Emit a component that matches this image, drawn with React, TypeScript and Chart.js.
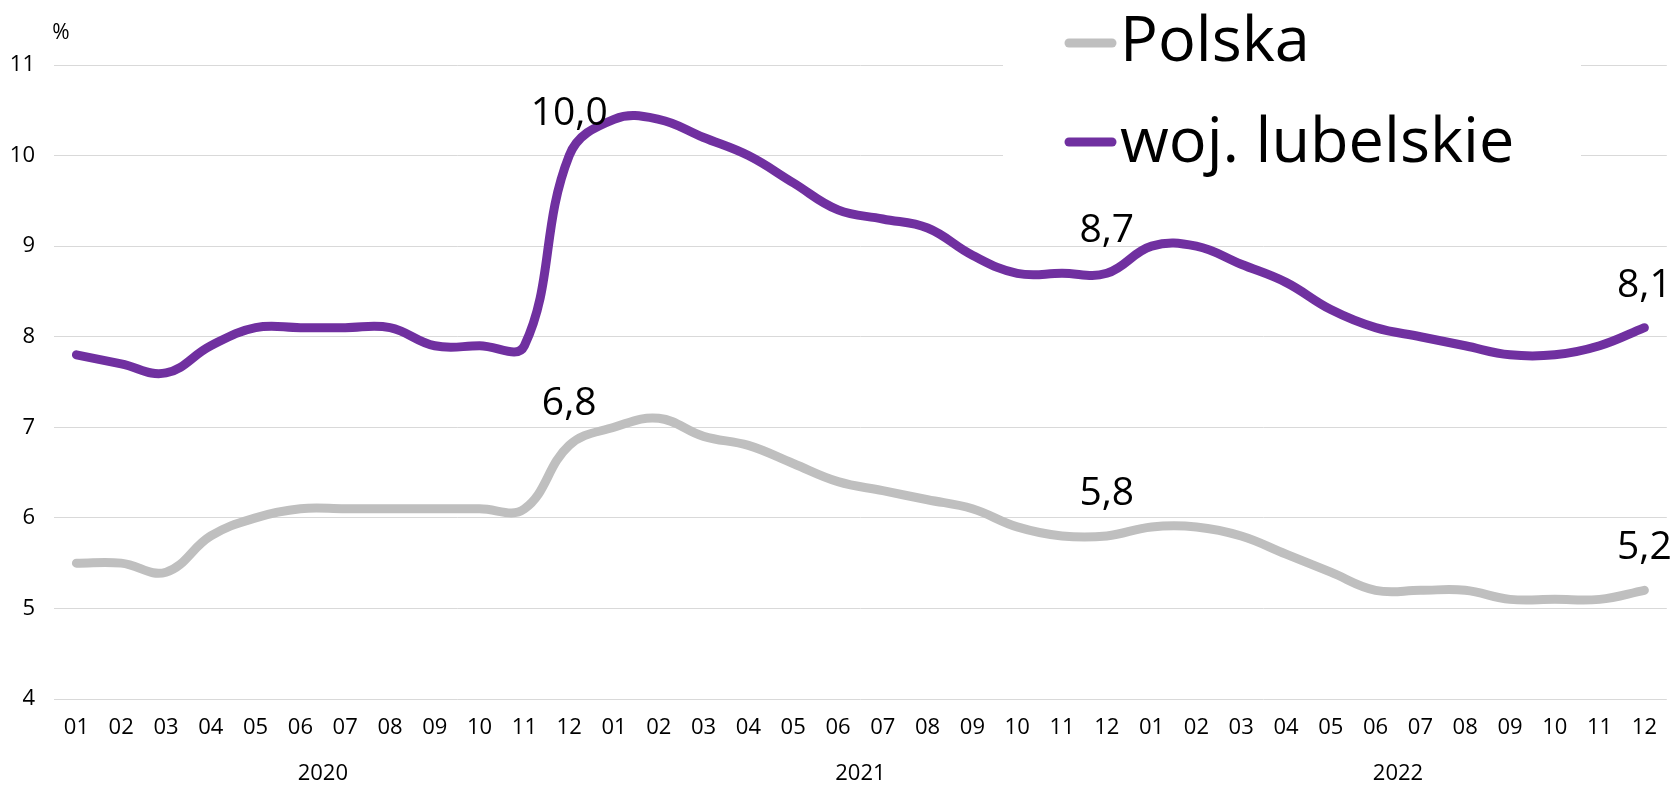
import React, { useEffect, useRef } from "react";
import { Chart, registerables } from "chart.js";

Chart.register(...registerables);

const monthLabels = [
  "01", "02", "03", "04", "05", "06", "07", "08", "09", "10", "11", "12",
  "01", "02", "03", "04", "05", "06", "07", "08", "09", "10", "11", "12",
  "01", "02", "03", "04", "05", "06", "07", "08", "09", "10", "11", "12",
];
const yearLabels = ["2020", "2021", "2022"];

const polska = [
  5.5, 5.5, 5.4, 5.8, 6.0, 6.1, 6.1, 6.1, 6.1, 6.1, 6.1, 6.8,
  7.0, 7.1, 6.9, 6.8, 6.6, 6.4, 6.3, 6.2, 6.1, 5.9, 5.8, 5.8,
  5.9, 5.9, 5.8, 5.6, 5.4, 5.2, 5.2, 5.2, 5.1, 5.1, 5.1, 5.2,
];
const lubelskie = [
  7.8, 7.7, 7.6, 7.9, 8.1, 8.1, 8.1, 8.1, 7.9, 7.9, 7.9, 10.0,
  10.4, 10.4, 10.2, 10.0, 9.7, 9.4, 9.3, 9.2, 8.9, 8.7, 8.7, 8.7,
  9.0, 9.0, 8.8, 8.6, 8.3, 8.1, 8.0, 7.9, 7.8, 7.8, 7.9, 8.1,
];
const labeledIndexes = [11, 23, 35];
const seriesNames = ["Polska", "woj. lubelskie"];
const seriesColors = ["#BFBFBF", "#7030A0"];
const yMin = 4;
const yMax = 11;
const unitLabel = "%";

const FONT = "'Open Sans', 'Noto Sans', sans-serif";

const fmt = (v: number) => v.toFixed(1).replace(".", ",");

const extrasPlugin = {
  id: "extras",
  afterDraw(chart: any) {
    const ctx = chart.ctx;
    const xs = chart.scales.x;
    ctx.save();

    // data labels
    ctx.fillStyle = "#000";
    ctx.font = `39px ${FONT}`;
    ctx.textAlign = "center";
    ctx.textBaseline = "middle";
    chart.data.datasets.forEach((ds: any, di: number) => {
      const meta = chart.getDatasetMeta(di);
      labeledIndexes.forEach((idx) => {
        const pt = meta.data[idx];
        ctx.fillText(fmt(ds.data[idx]), pt.x, pt.y - 42);
      });
    });

    // year labels
    ctx.font = `22px ${FONT}`;
    yearLabels.forEach((yl, i) => {
      const a = xs.getPixelForValue(i * 12 + 5);
      const b = xs.getPixelForValue(i * 12 + 6);
      ctx.fillText(yl, (a + b) / 2, 774);
    });

    // unit label
    ctx.font = `21px ${FONT}`;
    ctx.fillText(unitLabel, 61, 33);

    // legend
    ctx.fillStyle = "#fff";
    ctx.fillRect(1003, 0, 578, 200);
    const legendY = [43, 142];
    const baseY = [61, 162];
    let size = 70;
    ctx.font = `${size}px ${FONT}`;
    const w = ctx.measureText(seriesNames[1]).width;
    size = Math.floor((size * 395) / w);
    seriesNames.forEach((name, i) => {
      ctx.strokeStyle = seriesColors[i];
      ctx.lineWidth = 9;
      ctx.lineCap = "round";
      ctx.beginPath();
      ctx.moveTo(1069, legendY[i]);
      ctx.lineTo(1112, legendY[i]);
      ctx.stroke();
      ctx.fillStyle = "#000";
      ctx.font = `${size}px ${FONT}`;
      ctx.textAlign = "left";
      ctx.textBaseline = "alphabetic";
      ctx.fillText(name, 1120, baseY[i]);
    });

    ctx.restore();
  },
};

export default function App() {
  const canvasRef = useRef<HTMLCanvasElement | null>(null);

  useEffect(() => {
    document.body.style.margin = "0";
    const canvas = canvasRef.current;
    if (!canvas) return;
    const chart = new Chart(canvas, {
      type: "line",
      data: {
        labels: monthLabels,
        datasets: [
          {
            label: seriesNames[0],
            data: polska,
            borderColor: seriesColors[0],
            backgroundColor: seriesColors[0],
            borderWidth: 9,
            pointRadius: 0,
            tension: 0.4,
            borderCapStyle: "round",
            borderJoinStyle: "round",
          },
          {
            label: seriesNames[1],
            data: lubelskie,
            borderColor: seriesColors[1],
            backgroundColor: seriesColors[1],
            borderWidth: 9,
            pointRadius: 0,
            tension: 0.4,
            borderCapStyle: "round",
            borderJoinStyle: "round",
          },
        ],
      },
      options: {
        animation: false,
        responsive: false,
        devicePixelRatio: 1,
        layout: { padding: { top: 65, right: 2, left: 0, bottom: 0 } },
        plugins: {
          legend: { display: false },
          tooltip: { enabled: false },
        },
        scales: {
          x: {
            offset: true,
            grid: { display: false, drawTicks: false },
            border: { display: false },
            ticks: {
              color: "#000",
              font: { family: FONT, size: 22 },
              padding: 16,
              maxRotation: 0,
              autoSkip: false,
            },
            afterFit: (s: any) => {
              s.height = 86;
            },
          },
          y: {
            min: yMin,
            max: yMax,
            grid: { color: "#D9D9D9", lineWidth: 1, drawTicks: false },
            border: { display: false },
            ticks: {
              stepSize: 1,
              color: "#000",
              font: { family: FONT, size: 22 },
              padding: 19,
            },
            afterFit: (s: any) => {
              s.width = 54;
            },
          },
        },
      },
      plugins: [extrasPlugin],
    });
    return () => chart.destroy();
  }, []);

  return (
    <div style={{ width: 1673, height: 785 }}>
      <canvas ref={canvasRef} width={1673} height={785} style={{ display: "block" }} />
    </div>
  );
}
